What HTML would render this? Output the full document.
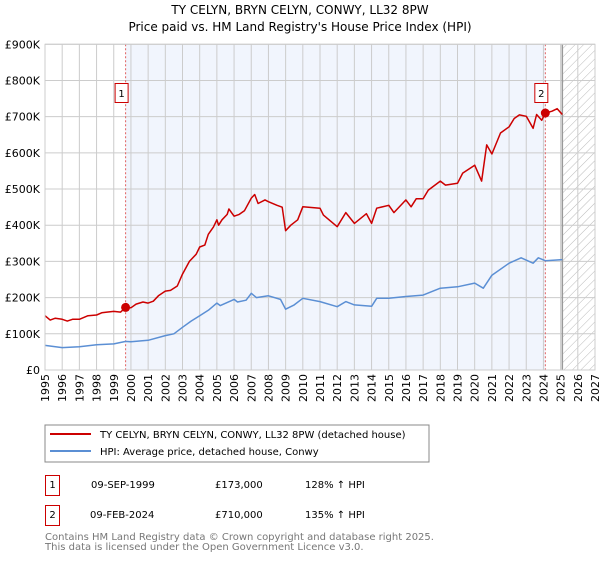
<!DOCTYPE html>
<html><head><meta charset="utf-8"><style>
body{margin:0;background:#fff;font-family:"DejaVu Sans","Liberation Sans",sans-serif;}
svg text{font-family:"DejaVu Sans","Liberation Sans",sans-serif;}
</style></head><body>
<svg id="c" width="600" height="560" xmlns="http://www.w3.org/2000/svg">
<defs><pattern id="hatch" width="6" height="6" patternUnits="userSpaceOnUse" patternTransform="rotate(45)"><line x1="0" y1="0" x2="0" y2="6" stroke="#bbb" stroke-width="1"/></pattern></defs>
<text x="300" y="14" text-anchor="middle" font-size="12">TY CELYN, BRYN CELYN, CONWY, LL32 8PW</text>
<text x="300" y="31" text-anchor="middle" font-size="12">Price paid vs. HM Land Registry's House Price Index (HPI)</text>
<g id="plot"></g>
<g>
<rect x="45" y="425" width="384" height="37" fill="#fff" stroke="#888"/>
<line x1="50" y1="434" x2="91" y2="434" stroke="#cc0000" stroke-width="2"/>
<text x="100" y="438" font-size="10">TY CELYN, BRYN CELYN, CONWY, LL32 8PW (detached house)</text>
<line x1="50" y1="451" x2="91" y2="451" stroke="#5b8fd4" stroke-width="2"/>
<text x="100" y="455" font-size="10">HPI: Average price, detached house, Conwy</text>
</g>
<g font-size="10">
<rect x="45.5" y="475.5" width="14" height="20" fill="#fff" stroke="#cc0000"/><text x="52.5" y="488" text-anchor="middle">1</text>
<text x="91" y="488">09-SEP-1999</text><text x="215" y="488">£173,000</text><text x="305" y="488">128% ↑ HPI</text>
<rect x="45.5" y="505.5" width="14" height="20" fill="#fff" stroke="#cc0000"/><text x="52.5" y="518" text-anchor="middle">2</text>
<text x="90" y="518">09-FEB-2024</text><text x="215" y="518">£710,000</text><text x="305" y="518">135% ↑ HPI</text>
</g>
<text x="45" y="540" font-size="10" fill="#777">Contains HM Land Registry data © Crown copyright and database right 2025.</text>
<text x="45" y="550" font-size="10" fill="#777">This data is licensed under the Open Government Licence v3.0.</text>
</svg>
<script>
const redYears=[1995,1995.3,1995.6,1996,1996.3,1996.6,1997,1997.5,1998,1998.3,1998.6,1999,1999.4,1999.69,2000,2000.3,2000.7,2001,2001.3,2001.6,2002,2002.3,2002.7,2003,2003.4,2003.8,2004,2004.3,2004.5,2004.8,2005,2005.1,2005.3,2005.6,2005.7,2006,2006.3,2006.6,2007,2007.2,2007.4,2007.8,2008,2008.5,2008.8,2009,2009.3,2009.7,2010,2011,2011.2,2012,2012.5,2013,2013.7,2014,2014.3,2015,2015.3,2016,2016.3,2016.6,2017,2017.3,2018,2018.3,2019,2019.3,2020,2020.4,2020.7,2021,2021.5,2022,2022.3,2022.6,2023,2023.4,2023.6,2023.9,2024.11,2024.5,2024.8,2025.1];
const redValues=[150,138,143,140,135,140,140,150,152,158,160,162,160,173,172,182,188,185,190,205,218,220,232,265,300,320,340,345,375,395,415,400,415,430,445,425,430,440,475,485,460,470,465,455,450,385,400,415,451,447,428,396,435,405,432,405,447,455,435,470,451,473,473,497,522,511,516,544,566,522,622,597,655,672,695,705,701,668,706,690,710,715,722,706];
const blueYears=[1995,1996,1997,1998,1999,1999.7,2000,2001,2002,2002.5,2003,2003.5,2004,2004.5,2005,2005.2,2006,2006.2,2006.7,2007,2007.3,2008,2008.7,2009,2009.5,2010,2011,2012,2012.5,2013,2014,2014.3,2015,2016,2017,2018,2019,2020,2020.5,2021,2022,2022.7,2023.4,2023.7,2024.11,2025.1];
const blueValues=[68,62,64,70,72,79,78,82,95,100,118,135,150,165,185,178,195,188,193,212,200,205,195,168,180,198,189,175,189,180,176,198,198,203,207,226,230,240,226,262,295,310,295,310,302,305];
const yTicks=[0,100,200,300,400,500,600,700,800,900];
const yTickLabels=["£0","£100K","£200K","£300K","£400K","£500K","£600K","£700K","£800K","£900K"];
const xTicks=[1995,1996,1997,1998,1999,2000,2001,2002,2003,2004,2005,2006,2007,2008,2009,2010,2011,2012,2013,2014,2015,2016,2017,2018,2019,2020,2021,2022,2023,2024,2025,2026,2027];
const saleYears=[1999.69,2024.11];
const saleValues=[173,710];
const saleLabels=["1","2"];
const dataEnd=2025.1;

const NS="http://www.w3.org/2000/svg";
const X0=45,X1=595,Y0=370,Y1=44.3;
const xs=y=>X0+(y-1995)/(2027-1995)*(X1-X0);
const ys=v=>Y0-v/900*(Y0-Y1);
const g=document.getElementById('plot');
function mk(t,a,p){const e=document.createElementNS(NS,t);for(const k in a)e.setAttribute(k,a[k]);(p||g).appendChild(e);return e;}

const shade=mk('rect',{x:xs(saleYears[0]),y:Y1,width:xs(saleYears[1])-xs(saleYears[0]),height:Y0-Y1,fill:'#eef3fd',opacity:0.8});


const hat=mk('rect',{x:xs(dataEnd),y:Y1,width:X1-xs(dataEnd),height:Y0-Y1,fill:'url(#hatch)'});



yTicks.forEach((v,i)=>{
  const l=mk('line',{x1:X0,x2:X1,y1:ys(v),y2:ys(v),stroke:'#ccc','stroke-width':1});
  
  
  const t=mk('text',{x:X0-5,y:ys(v)+4,'text-anchor':'end','font-size':11});
  
  
  t.textContent=yTickLabels[i];
});
xTicks.forEach(yr=>{
  const l=mk('line',{x1:xs(yr),x2:xs(yr),y1:Y1,y2:Y0,stroke:'#ccc','stroke-width':1});
  
  
  const t=mk('text',{x:0,y:0,'text-anchor':'end','font-size':11,transform:`translate(${xs(yr)+4},374) rotate(-90)`});
  
  
  t.textContent=String(yr);
});
const el=mk('line',{x1:xs(dataEnd),x2:xs(dataEnd),y1:Y1,y2:Y0,stroke:'#999','stroke-width':1.5});



saleYears.forEach((yr,i)=>{
  const l=mk('line',{x1:xs(yr),x2:xs(yr),y1:Y1,y2:Y0,stroke:'#e06060','stroke-width':1,'stroke-dasharray':'2,2'});
  
  
});

function path(xa,va,col,name){
  const d=xa.map((yr,i)=>(i?'L':'M')+xs(yr).toFixed(1)+','+ys(va[i]).toFixed(1)).join('');
  const p=mk('path',{d:d,fill:'none',stroke:col,'stroke-width':1.5,'stroke-linejoin':'round'});
  
  
}
path(blueYears,blueValues,'#5b8fd4','hpi-line');
path(redYears,redValues,'#cc0000','property-price-line');

saleYears.forEach((yr,i)=>{
  const c=mk('circle',{cx:xs(yr),cy:ys(saleValues[i]),r:4.5,fill:'#cc0000'});
  
  
  const r=mk('rect',{x:xs(yr)-10.5,y:83.5,width:13,height:19,fill:'#fff',stroke:'#cc0000'});
  
  
  const t=mk('text',{x:xs(yr)-4,y:97,'text-anchor':'middle','font-size':10});
  
  
  t.textContent=saleLabels[i];
});
const fr=mk('rect',{x:X0,y:Y1,width:X1-X0,height:Y0-Y1,fill:'none',stroke:'#ccc'});


</script>
</body></html>
